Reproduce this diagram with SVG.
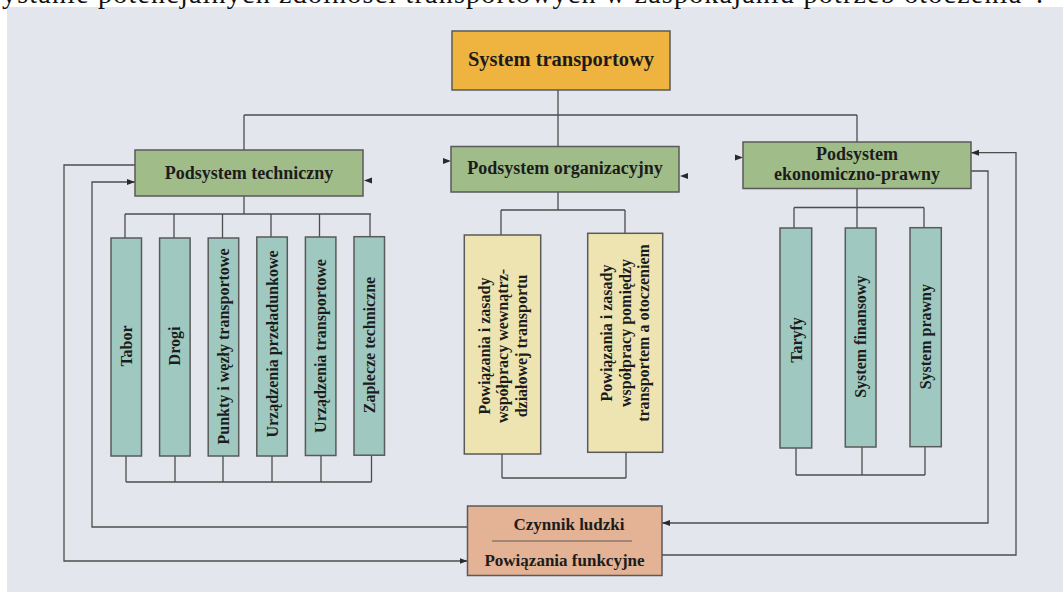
<svg xmlns="http://www.w3.org/2000/svg" width="1063" height="592" viewBox="0 0 1063 592">
<style>
  .t { font-family: "Liberation Serif", "Times New Roman", serif; font-weight: bold; fill: #1c1c1c; text-anchor: middle; }
  .box { stroke: #5a5a5a; stroke-width: 1.5; }
  .orange { fill: #efb440; }
  .green { fill: #a0bc89; }
  .teal { fill: #9fc9c0; }
  .yellow { fill: #ede4b2; }
  .salmon { fill: #e4b294; }
  .ln { fill: none; stroke: #4d4d4d; stroke-width: 1.3; }
  .ah { fill: #2a2a2a; }
</style>
<defs>
  <marker id="arr" markerUnits="userSpaceOnUse" markerWidth="9" markerHeight="7" refX="8" refY="3" orient="auto">
    <path d="M0,0 L8,3 L0,6 z" fill="#2a2a2a"/>
  </marker>
</defs>

<rect x="0" y="0" width="1063" height="592" fill="#ffffff"/>
<rect x="7" y="7" width="1056" height="585" fill="#e4e6ee"/>

<text x="2" y="3" font-family="Liberation Serif, Times New Roman, serif" font-size="28" fill="#111" textLength="1041" lengthAdjust="spacing">ystanie potencjalnych zdolności transportowych w zaspokajaniu potrzeb otoczenia”.</text>

<g id="connectors">
  <path class="ln" d="M558,90 V146.5"/>
  <path class="ln" d="M244,115 H857"/>
  <path class="ln" d="M244,115 V150"/>
  <path class="ln" d="M857,115 V142"/>

  <path class="ln" d="M244,196 V214 M125,214 H371 M125,214 V238 M174,214 V238 M222.5,214 V238 M271,214 V238 M319.5,214 V238 M370,214 V238"/>
  <path class="ln" d="M126,456 V482 M175,456 V482 M223,456 V482 M272,456 V482 M321,456 V482 M371.5,456 V482 M126,482 H371.5"/>

  <path class="ln" d="M558,192 V210 M501,210 H625 M501,210 V235 M625,210 V233.3"/>
  <path class="ln" d="M502,454 V478 M626,452.3 V478 M502,478 H626"/>

  <path class="ln" d="M857,188.5 V207.5 M794,207.5 H924 M794,207.5 V228 M857,207.5 V228 M924,207.5 V228"/>
  <path class="ln" d="M796,448 V475 M862,447 V475 M925,446.7 V475 M796,475 H925"/>

  <path class="ln" d="M135,165 H64 V561 H467.5" marker-end="url(#arr)"/>
  <path class="ln" d="M467.5,527 H92 V182 H135" marker-end="url(#arr)"/>
  <path class="ln" d="M971,171 H988 V523 H662" marker-end="url(#arr)"/>
  <path class="ln" d="M662,555 H1016 V152.7 H971" marker-end="url(#arr)"/>

  <path class="ah" d="M364,180.5 L372,177.5 L372,183.5 z"/>
  <path class="ah" d="M451,161 L443,158 L443,164 z"/>
  <path class="ah" d="M680,176 L688,173 L688,179 z"/>
  <path class="ah" d="M743,157.5 L735,154.5 L735,160.5 z"/>
</g>

<g id="system-transportowy">
  <rect class="box orange" x="452" y="31" width="218" height="59"/>
  <text class="t" x="561" y="66" font-size="20.5">System transportowy</text>
</g>

<g id="podsystem-techniczny">
  <rect class="box green" x="135" y="150" width="228" height="46"/>
  <text class="t" x="249" y="179" font-size="18">Podsystem techniczny</text>
</g>

<g id="podsystem-organizacyjny">
  <rect class="box green" x="451" y="146.5" width="228" height="45.5"/>
  <text class="t" x="565" y="174" font-size="18">Podsystem organizacyjny</text>
</g>

<g id="podsystem-ekonomiczno-prawny">
  <rect class="box green" x="743" y="142" width="228" height="46.5"/>
  <text class="t" x="857" y="159.5" font-size="18">Podsystem</text>
  <text class="t" x="857" y="180" font-size="18">ekonomiczno-prawny</text>
</g>

<g id="tabor">
  <rect class="box teal" x="111" y="238" width="30.5" height="218"/>
  <text class="t" font-size="16" transform="translate(126.3,346) rotate(-90)" x="0" y="5.5">Tabor</text>
</g>
<g id="drogi">
  <rect class="box teal" x="159.6" y="238" width="30.5" height="218"/>
  <text class="t" font-size="16" transform="translate(174.9,346) rotate(-90)" x="0" y="5.5">Drogi</text>
</g>
<g id="punkty">
  <rect class="box teal" x="208.2" y="238" width="30.5" height="218"/>
  <text class="t" font-size="16" transform="translate(223.5,346.5) rotate(-90)" x="0" y="5.5">Punkty i węzły transportowe</text>
</g>
<g id="urzadzenia-przeladunkowe">
  <rect class="box teal" x="256.8" y="237" width="30.5" height="219"/>
  <text class="t" font-size="16" transform="translate(272,344) rotate(-90)" x="0" y="5.5">Urządzenia przeładunkowe</text>
</g>
<g id="urzadzenia-transportowe">
  <rect class="box teal" x="305.4" y="237" width="30.5" height="218.5"/>
  <text class="t" font-size="16" transform="translate(320.6,346) rotate(-90)" x="0" y="5.5">Urządzenia transportowe</text>
</g>
<g id="zaplecze-techniczne">
  <rect class="box teal" x="354" y="236.7" width="30.5" height="218.5"/>
  <text class="t" font-size="16" transform="translate(369.2,345) rotate(-90)" x="0" y="5.5">Zaplecze techniczne</text>
</g>

<g id="powiazania-wewnatrz">
  <rect class="box yellow" x="464.3" y="235" width="76.4" height="219"/>
  <g transform="translate(502.5,346) rotate(-90)">
    <text class="t" font-size="16" x="0" y="-13">Powiązania i zasady</text>
    <text class="t" font-size="16" x="0" y="5.5">współpracy wewnątrz-</text>
    <text class="t" font-size="16" x="0" y="24">działowej transportu</text>
  </g>
</g>
<g id="powiazania-otoczenie">
  <rect class="box yellow" x="587.7" y="233.3" width="75" height="219"/>
  <g transform="translate(625,333) rotate(-90)">
    <text class="t" font-size="16" x="0" y="-13">Powiązania i zasady</text>
    <text class="t" font-size="16" x="0" y="5.5">współpracy pomiędzy</text>
    <text class="t" font-size="16" x="0" y="24">transportem a otoczeniem</text>
  </g>
</g>

<g id="taryfy">
  <rect class="box teal" x="780" y="228" width="31.7" height="220"/>
  <text class="t" font-size="16" transform="translate(796,340) rotate(-90)" x="0" y="5.5">Taryfy</text>
</g>
<g id="system-finansowy">
  <rect class="box teal" x="845.3" y="228" width="30.7" height="219"/>
  <text class="t" font-size="16" transform="translate(860.7,336.7) rotate(-90)" x="0" y="5.5">System finansowy</text>
</g>
<g id="system-prawny">
  <rect class="box teal" x="910" y="227.7" width="31.3" height="219"/>
  <text class="t" font-size="16" transform="translate(925.7,336.7) rotate(-90)" x="0" y="5.5">System prawny</text>
</g>

<g id="czynnik-ludzki">
  <rect class="box salmon" x="467.5" y="506" width="194.5" height="69.5"/>
  <line x1="492" y1="541" x2="632" y2="541" stroke="#5a5a5a" stroke-width="1.2"/>
  <text class="t" x="569" y="530" font-size="17">Czynnik ludzki</text>
  <text class="t" x="564.5" y="566" font-size="17">Powiązania funkcyjne</text>
</g>
</svg>
